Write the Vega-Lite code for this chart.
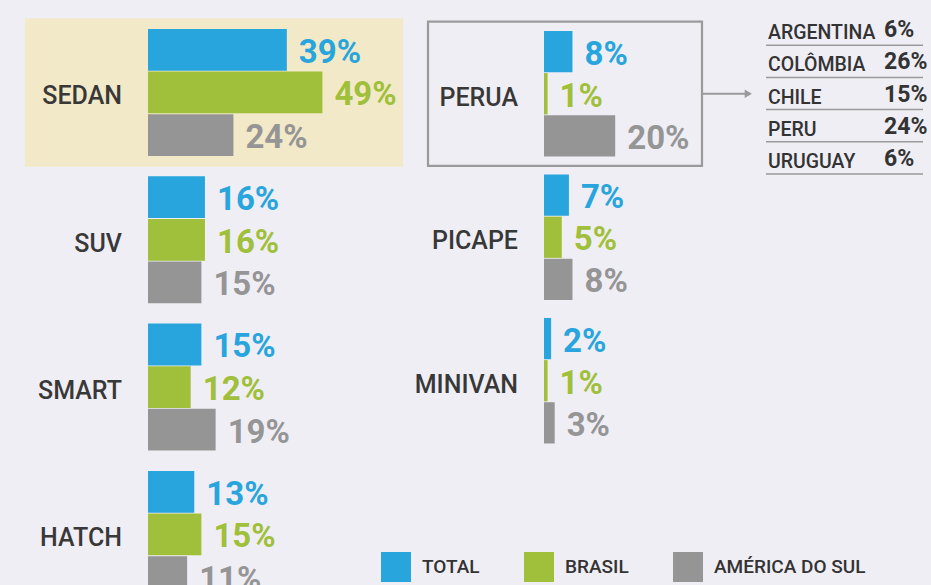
{
  "$schema": "https://vega.github.io/schema/vega-lite/v6.json",
  "width": 931,
  "height": 585,
  "autosize": {"type": "none"},
  "padding": 0,
  "background": "#f0eef5",
  "config": {"view": {"stroke": null}, "font": "Roboto"},
  "datasets": {
    "esquerda": [
      {"tipo": "SEDAN", "serie": "TOTAL", "valor": 0.39},
      {"tipo": "SEDAN", "serie": "BRASIL", "valor": 0.49},
      {"tipo": "SEDAN", "serie": "AMÉRICA DO SUL", "valor": 0.24},
      {"tipo": "SUV", "serie": "TOTAL", "valor": 0.16},
      {"tipo": "SUV", "serie": "BRASIL", "valor": 0.16},
      {"tipo": "SUV", "serie": "AMÉRICA DO SUL", "valor": 0.15},
      {"tipo": "SMART", "serie": "TOTAL", "valor": 0.15},
      {"tipo": "SMART", "serie": "BRASIL", "valor": 0.12},
      {"tipo": "SMART", "serie": "AMÉRICA DO SUL", "valor": 0.19},
      {"tipo": "HATCH", "serie": "TOTAL", "valor": 0.13},
      {"tipo": "HATCH", "serie": "BRASIL", "valor": 0.15},
      {"tipo": "HATCH", "serie": "AMÉRICA DO SUL", "valor": 0.11}
    ],
    "direita": [
      {"tipo": "PERUA", "serie": "TOTAL", "valor": 0.08},
      {"tipo": "PERUA", "serie": "BRASIL", "valor": 0.01},
      {"tipo": "PERUA", "serie": "AMÉRICA DO SUL", "valor": 0.20},
      {"tipo": "PICAPE", "serie": "TOTAL", "valor": 0.07},
      {"tipo": "PICAPE", "serie": "BRASIL", "valor": 0.05},
      {"tipo": "PICAPE", "serie": "AMÉRICA DO SUL", "valor": 0.08},
      {"tipo": "MINIVAN", "serie": "TOTAL", "valor": 0.02},
      {"tipo": "MINIVAN", "serie": "BRASIL", "valor": 0.01},
      {"tipo": "MINIVAN", "serie": "AMÉRICA DO SUL", "valor": 0.03}
    ],
    "paises": [
      {"pais": "ARGENTINA", "valor": 0.06},
      {"pais": "COLÔMBIA", "valor": 0.26},
      {"pais": "CHILE", "valor": 0.15},
      {"pais": "PERU", "valor": 0.24},
      {"pais": "URUGUAY", "valor": 0.06}
    ]
  },
  "resolve": {"scale": {"x": "independent", "y": "independent", "yOffset": "independent"}},
  "layer": [
    {
      "data": {"name": "esquerda"},
      "encoding": {
        "y": {"field": "tipo", "type": "nominal", "sort": null, "axis": null,
          "scale": {"domain": ["SEDAN", "SUV", "SMART", "HATCH"], "range": [18.8, 608.1], "paddingInner": 0.138, "paddingOuter": 0.069}}
      },
      "layer": [
        {
          "transform": [{"filter": "datum.tipo === 'SEDAN' && datum.serie === 'TOTAL'"}],
          "mark": {"type": "bar", "color": "#f2e9c8", "height": {"band": 1.17}},
          "encoding": {
            "x": {"datum": -0.3455, "type": "quantitative", "axis": null, "scale": {"domain": [-0.4157, 2.1994], "nice": false, "zero": false}},
            "x2": {"datum": 0.7163}
          }
        },
        {
          "mark": {"type": "bar"},
          "encoding": {
            "x": {"field": "valor", "type": "quantitative", "axis": null, "scale": {"domain": [-0.4157, 2.1994], "nice": false, "zero": false}},
            "x2": {"datum": 0},
            "yOffset": {"field": "serie", "type": "nominal", "sort": null, "scale": {"domain": ["TOTAL", "BRASIL", "AMÉRICA DO SUL"], "paddingInner": 0.02, "paddingOuter": 0}},
            "color": {"field": "serie", "type": "nominal", "sort": null,
              "scale": {"domain": ["TOTAL", "BRASIL", "AMÉRICA DO SUL"], "range": ["#29a5de", "#a0bf3a", "#959595"]},
              "legend": {"orient": "none", "legendX": 381, "legendY": 552, "direction": "horizontal", "title": null,
                "symbolType": "square", "symbolSize": 900, "symbolStrokeWidth": 0, "labelFontSize": 19, "labelFontWeight": 500,
                "labelColor": "#333333", "labelOffset": 11, "columnPadding": 44, "padding": 0}}
          }
        },
        {
          "mark": {"type": "text", "align": "left", "baseline": "middle", "dx": 12, "dy": 3, "fontSize": 33, "fontWeight": "bold"},
          "encoding": {
            "x": {"field": "valor", "type": "quantitative", "axis": null, "scale": {"domain": [-0.4157, 2.1994], "nice": false, "zero": false}},
            "yOffset": {"field": "serie", "type": "nominal", "sort": null, "scale": {"domain": ["TOTAL", "BRASIL", "AMÉRICA DO SUL"], "paddingInner": 0.02, "paddingOuter": 0}},
            "text": {"field": "valor", "type": "quantitative", "format": ".0%"},
            "color": {"field": "serie", "type": "nominal", "sort": null}
          }
        },
        {
          "transform": [{"filter": "datum.serie === 'TOTAL'"}],
          "mark": {"type": "text", "align": "right", "baseline": "middle", "dx": -26, "dy": 4, "fontSize": 25, "fontWeight": 500, "color": "#383838"},
          "encoding": {
            "x": {"datum": 0, "type": "quantitative", "axis": null, "scale": {"domain": [-0.4157, 2.1994], "nice": false, "zero": false}},
            "text": {"field": "tipo"}
          }
        }
      ]
    },
    {
      "data": {"name": "direita"},
      "encoding": {
        "y": {"field": "tipo", "type": "nominal", "sort": null, "axis": null,
          "scale": {"domain": ["PERUA", "PICAPE", "MINIVAN"], "range": [22, 452.5], "paddingInner": 0.125, "paddingOuter": 0.0627}}
      },
      "layer": [
        {
          "transform": [{"filter": "datum.tipo === 'PERUA' && datum.serie === 'TOTAL'"}],
          "mark": {"type": "bar", "fill": null, "fillOpacity": 0, "stroke": "#9a9a9a", "strokeWidth": 2.2, "height": {"band": 1.15}},
          "encoding": {
            "x": {"datum": -0.3258, "type": "quantitative", "axis": null, "scale": {"domain": [-1.5281, 1.0871], "nice": false, "zero": false}},
            "x2": {"datum": 0.4438}
          }
        },
        {
          "transform": [{"filter": "datum.tipo === 'PERUA' && datum.serie === 'TOTAL'"}],
          "mark": {"type": "rule", "color": "#9a9a9a", "strokeWidth": 2},
          "encoding": {
            "x": {"datum": 0.4466, "type": "quantitative", "axis": null, "scale": {"domain": [-1.5281, 1.0871], "nice": false, "zero": false}},
            "x2": {"datum": 0.578},
            "y": {"field": "tipo", "type": "nominal", "bandPosition": 0.5}
          }
        },
        {
          "transform": [{"filter": "datum.tipo === 'PERUA' && datum.serie === 'TOTAL'"}],
          "mark": {"type": "point", "shape": "triangle-right", "filled": true, "color": "#9a9a9a", "size": 70, "opacity": 1},
          "encoding": {
            "x": {"datum": 0.574, "type": "quantitative", "axis": null, "scale": {"domain": [-1.5281, 1.0871], "nice": false, "zero": false}},
            "y": {"field": "tipo", "type": "nominal", "bandPosition": 0.5}
          }
        },
        {
          "mark": {"type": "bar"},
          "encoding": {
            "x": {"field": "valor", "type": "quantitative", "axis": null, "scale": {"domain": [-1.5281, 1.0871], "nice": false, "zero": false}},
            "x2": {"datum": 0},
            "yOffset": {"field": "serie", "type": "nominal", "sort": null, "scale": {"domain": ["TOTAL", "BRASIL", "AMÉRICA DO SUL"], "paddingInner": 0.02, "paddingOuter": 0}},
            "color": {"field": "serie", "type": "nominal", "sort": null}
          }
        },
        {
          "mark": {"type": "text", "align": "left", "baseline": "middle", "dx": 12, "dy": 3, "fontSize": 33, "fontWeight": "bold"},
          "encoding": {
            "x": {"field": "valor", "type": "quantitative", "axis": null, "scale": {"domain": [-1.5281, 1.0871], "nice": false, "zero": false}},
            "yOffset": {"field": "serie", "type": "nominal", "sort": null, "scale": {"domain": ["TOTAL", "BRASIL", "AMÉRICA DO SUL"], "paddingInner": 0.02, "paddingOuter": 0}},
            "text": {"field": "valor", "type": "quantitative", "format": ".0%"},
            "color": {"field": "serie", "type": "nominal", "sort": null}
          }
        },
        {
          "transform": [{"filter": "datum.serie === 'TOTAL'"}],
          "mark": {"type": "text", "align": "right", "baseline": "middle", "dx": -26, "dy": 4, "fontSize": 25, "fontWeight": 500, "color": "#383838"},
          "encoding": {
            "x": {"datum": 0, "type": "quantitative", "axis": null, "scale": {"domain": [-1.5281, 1.0871], "nice": false, "zero": false}},
            "text": {"field": "tipo"}
          }
        }
      ]
    },
    {
      "data": {"name": "paises"},
      "encoding": {
        "y": {"field": "pais", "type": "nominal", "sort": null, "axis": null,
          "scale": {"domain": ["ARGENTINA", "COLÔMBIA", "CHILE", "PERU", "URUGUAY"], "range": [13, 174], "paddingInner": 0, "paddingOuter": 0}}
      },
      "layer": [
        {
          "mark": {"type": "rule", "color": "#9a9a9a", "strokeWidth": 1.5},
          "encoding": {
            "x": {"datum": 0.6236, "type": "quantitative", "axis": null, "scale": {"domain": [-1.5281, 1.0871], "nice": false, "zero": false}},
            "x2": {"datum": 1.0646},
            "y": {"field": "pais", "type": "nominal", "sort": null, "bandPosition": 1}
          }
        },
        {
          "mark": {"type": "text", "align": "left", "baseline": "middle", "dy": 4, "fontSize": 19.5, "fontWeight": 500, "color": "#333333"},
          "encoding": {
            "x": {"datum": 0.6292, "type": "quantitative", "axis": null, "scale": {"domain": [-1.5281, 1.0871], "nice": false, "zero": false}},
            "text": {"field": "pais"}
          }
        },
        {
          "mark": {"type": "text", "align": "left", "baseline": "middle", "dy": 1, "fontSize": 23, "fontWeight": "bold", "color": "#333333"},
          "encoding": {
            "x": {"datum": 0.9551, "type": "quantitative", "axis": null, "scale": {"domain": [-1.5281, 1.0871], "nice": false, "zero": false}},
            "text": {"field": "valor", "type": "quantitative", "format": ".0%"}
          }
        }
      ]
    }
  ]
}
